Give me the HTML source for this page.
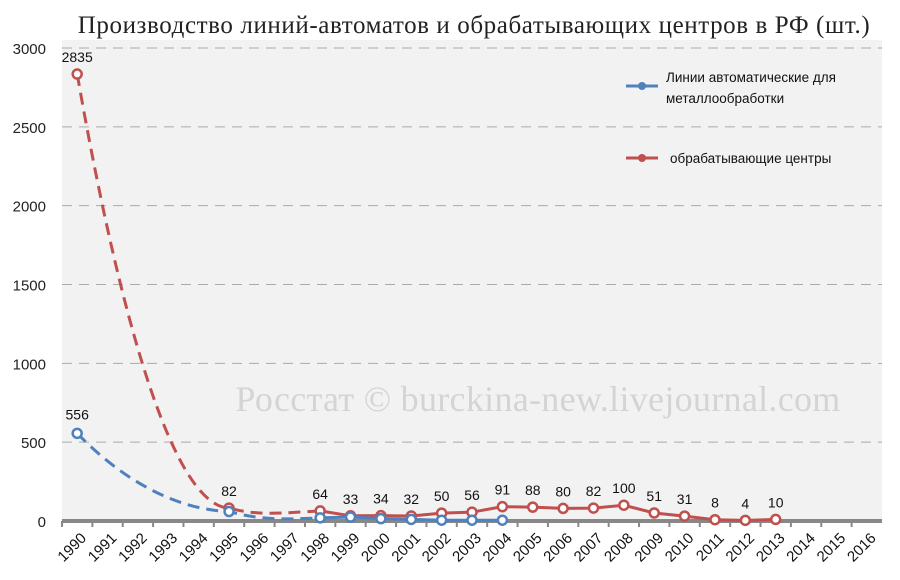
<!DOCTYPE html>
<html><head><meta charset="utf-8"><style>
body{margin:0;background:#fff;}
svg{display:block;font-family:"Liberation Sans",sans-serif;}
</style></head><body>
<svg id="c" width="900" height="580"></svg>
<script>
const years=[];for(let y=1990;y<=2016;y++)years.push(String(y));
const redYears=[1990,1995,1998,1999,2000,2001,2002,2003,2004,2005,2006,2007,2008,2009,2010,2011,2012,2013];
const redVals=[2835,82,64,33,34,32,50,56,91,88,80,82,100,51,31,8,4,10];
const blueYears=[1990,1995,1998,1999,2000,2001,2002,2003,2004];
const blueVals=[556,60,20,25,15,10,5,5,5];
const yTicks=[0,500,1000,1500,2000,2500,3000];
const NS="http://www.w3.org/2000/svg",svg=document.getElementById('c');
const X0=62,X1=882,Y0=521,Y1=48,YMAX=3000;
const bw=(X1-X0)/years.length;
const xs=y=>X0+bw*(years.indexOf(String(y))+0.5);
const ys=v=>Y0-(v/YMAX)*(Y0-Y1);
function el(t,a,p){const e=document.createElementNS(NS,t);for(const k in a)e.setAttribute(k,a[k]);(p||svg).appendChild(e);return e;}
let e;
e=el('rect',{x:X0,y:Y1-8,width:X1-X0,height:Y0-Y1+8,fill:'#f2f2f2'});


e=el('text',{x:474,y:33,'text-anchor':'middle','font-size':25,'letter-spacing':0.6,fill:'#222','font-family':'Liberation Serif, serif'});e.textContent='Производство линий-автоматов и обрабатывающих центров в РФ (шт.)';


yTicks.forEach(v=>{
 if(v>0){e=el('line',{x1:X0,x2:X1,y1:ys(v),y2:ys(v),stroke:'#aaa','stroke-width':1,'stroke-dasharray':'10,7'});
 
 }
 e=el('text',{x:46,y:ys(v)+6,'text-anchor':'end','font-size':15,fill:'#222'});e.textContent=v;
 
 
});
e=el('text',{x:538,y:411,'text-anchor':'middle','font-size':36,'letter-spacing':0.3,fill:'#d4d4d4','font-family':'Liberation Serif, serif'});e.textContent='Росстат © burckina-new.livejournal.com';


e=el('line',{x1:X0,x2:X1,y1:Y0,y2:Y0,stroke:'#888','stroke-width':4});


years.forEach((y,i)=>{
 const x=X0+bw*i;
 e=el('line',{x1:x,x2:x,y1:Y0,y2:Y0+6,stroke:'#888','stroke-width':2});
 
 
 const cx=X0+bw*(i+0.5);
 e=el('text',{x:cx+10,y:Y0+18,'text-anchor':'end','font-size':15,fill:'#111',transform:`rotate(-45 ${cx+10} ${Y0+18})`});e.textContent=y;
 
 
});
function series(yrs,vals,color,name,labels){
 const g=el('g',{});
 
 
 const p=yrs.map((y,i)=>[xs(y),ys(vals[i])]);
 const a=p[0],b=p[1],c=p[2];
 e=el('path',{d:`M${a[0]},${a[1]} C${a[0]+(b[0]-a[0])*0.3},${a[1]+(b[1]-a[1])*0.6} ${a[0]+(b[0]-a[0])*0.65},${b[1]-2} ${b[0]},${b[1]} C${b[0]+30},${b[1]+8} ${c[0]-40},${c[1]+2} ${c[0]},${c[1]}`,fill:'none',stroke:color,'stroke-width':3,'stroke-dasharray':'12,7'},g);
 
 
 e=el('polyline',{points:p.slice(2).map(q=>q.join(',')).join(' '),fill:'none',stroke:color,'stroke-width':3},g);
 
 
 p.forEach((q,i)=>{
  e=el('circle',{cx:q[0],cy:q[1],r:4.5,fill:'#fff',stroke:color,'stroke-width':2.5},g);
  
  
  if(labels){
   e=el('text',{x:q[0],y:q[1]-12,'text-anchor':'middle','font-size':14,fill:'#111'},g);e.textContent=vals[i];
   
   
  }
 });
}
series(redYears,redVals,'#c0504d','red-series',true);
series(blueYears,blueVals,'#4f81bd','blue-series',false);
e=el('text',{x:xs(1990),y:ys(blueVals[0])-14,'text-anchor':'middle','font-size':14,fill:'#111'});e.textContent=blueVals[0];


const lg=el('g',{});


[[ '#4f81bd',86,['Линии автоматические для','металлообработки']],['#c0504d',158,['обрабатывающие  центры']]].forEach(([col,y,t],k)=>{
 e=el('line',{x1:626,x2:658,y1:y,y2:y,stroke:col,'stroke-width':3},lg);
 
 
 e=el('circle',{cx:642,cy:y,r:4,fill:col},lg);
 
 
 t.forEach((s,j)=>{
  e=el('text',{x:k?670:666,y:(t.length>1?y-4:y+5)+j*21,'font-size':13.5,fill:'#111'},lg);e.textContent=s;
  
  
 });
});
</script>
</body></html>
